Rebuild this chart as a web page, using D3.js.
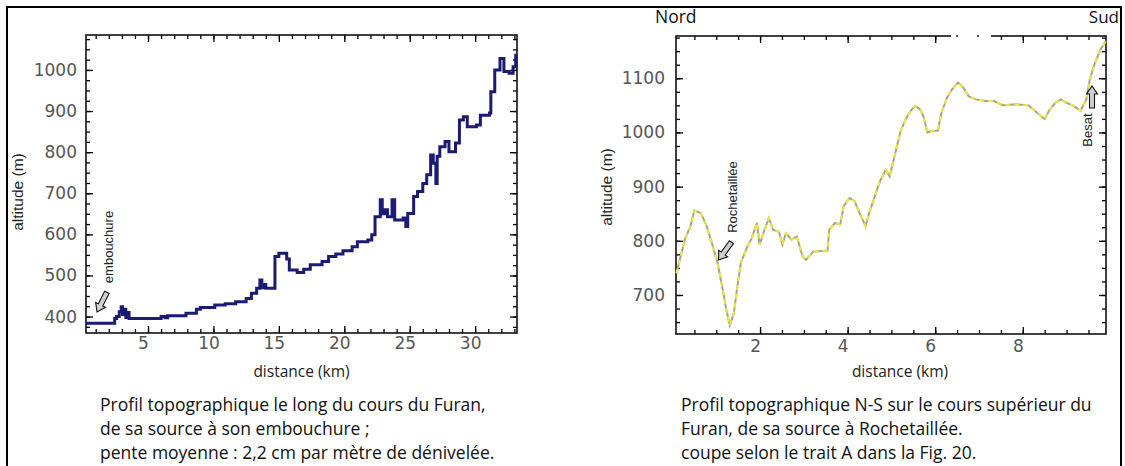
<!DOCTYPE html>
<html lang="fr">
<head>
<meta charset="utf-8">
<title>Profils topographiques du Furan</title>
<script src="https://d3js.org/d3.v7.min.js"></script>
<style>
  body { margin: 0; background: #fff; }
  svg { display: block; }
</style>
</head>
<body>
<script>
// profil le long du Furan (km, m)
var furanKm = [0.26, 2.3, 2.45, 2.6, 2.8, 2.95, 3.05, 3.15, 3.3, 3.45, 3.55, 5.9, 6.0, 6.3, 6.5, 7.9, 8.7, 9.0,
  10.1, 10.9, 11.7, 12.5, 12.9, 13.3, 13.55, 13.7, 13.85, 14.0, 14.7, 15.0, 15.6, 15.8, 16.4, 16.9, 17.4, 18.3,
  18.8, 19.35, 19.9, 20.6, 21.0, 21.8, 22.1, 22.35, 22.75, 22.9, 23.1, 23.3, 23.65, 23.85, 24.5, 24.7, 24.85,
  25.3, 25.6, 26.0, 26.3, 26.6, 26.8, 27.0, 27.1, 27.3, 27.7, 28.0, 28.5, 28.8, 29.1, 29.4, 30.1, 30.4, 31.1,
  31.2, 31.5, 31.9, 32.2, 32.6, 32.9, 33.1, 33.2];
var furanAlt = [384, 384, 395, 400, 412, 424, 405, 418, 398, 410, 395, 395, 400, 397, 402, 408, 418, 422,
  428, 431, 436, 444, 457, 469, 489, 470, 478, 469, 546, 554, 540, 513, 507, 515, 526, 534,
  546, 552, 560, 570, 582, 586, 599, 643, 684, 650, 660, 643, 684, 635, 640, 619, 651,
  692, 704, 724, 745, 793, 773, 724, 790, 813, 826, 801, 822, 878, 886, 862, 866, 890, 895,
  947, 1000, 1028, 996, 992, 1008, 1036, 1036];

// profil N-S (km, m)
var nsKm = [0.09, 0.28, 0.41, 0.5, 0.65, 0.78, 0.9, 1.03, 1.15, 1.23, 1.31, 1.4, 1.48, 1.56, 1.69, 1.81, 1.93,
  1.99, 2.1, 2.2, 2.3, 2.43, 2.51, 2.59, 2.72, 2.84, 2.97, 3.05, 3.21, 3.54, 3.58, 3.71, 3.83, 3.91, 4.04,
  4.16, 4.27, 4.41, 4.49, 4.62, 4.74, 4.87, 4.96, 5.07, 5.2, 5.32, 5.44, 5.54, 5.65, 5.73, 5.82, 5.94, 6.06,
  6.14, 6.27, 6.39, 6.52, 6.64, 6.76, 6.93, 7.14, 7.34, 7.55, 7.84, 8.13, 8.33, 8.5, 8.62, 8.75, 8.87, 8.99,
  9.16, 9.32, 9.45, 9.53, 9.65, 9.78, 9.9];
var nsAlt = [740, 802, 827, 856, 851, 827, 796, 759, 709, 672, 644, 666, 715, 759, 786, 805, 833,
  793, 820, 842, 820, 817, 793, 814, 802, 808, 771, 765, 780, 782, 820, 833, 830, 864, 879,
  873, 851, 827, 851, 882, 910, 931, 919, 956, 1000, 1024, 1040, 1049, 1043, 1030, 1000, 1003, 1003,
  1036, 1064, 1080, 1092, 1083, 1067, 1061, 1058, 1058, 1050, 1052, 1050, 1036, 1025, 1043, 1055, 1061, 1055,
  1049, 1040, 1061, 1098, 1129, 1154, 1169];

var leftXTicks = [5, 10, 15, 20, 25, 30];
var leftYTicks = [400, 500, 600, 700, 800, 900, 1000];
var rightXTicks = [2, 4, 6, 8];
var rightYTicks = [700, 800, 900, 1000, 1100];

var leftCaption = ["Profil topographique le long du cours du Furan,",
  "de sa source à son embouchure ;",
  "pente moyenne : 2,2 cm par mètre de dénivelée."];
var rightCaption = ["Profil topographique N-S sur le cours supérieur du",
  "Furan,  de sa source à Rochetaillée.",
  "coupe selon le trait A dans la Fig. 20."];

var W = 1125, H = 466;
var svg = d3.select('body').append('svg').attr('width', W).attr('height', H);

// cadre
svg.append('rect').attr('x', 7).attr('y', 7).attr('width', 1114).attr('height', 470)
  .style('fill', 'none').style('stroke', '#000').style('stroke-width', 2);

function panel(p) {
  var x = d3.scaleLinear().domain(p.xDom).range([p.left, p.right]);
  var y = d3.scaleLinear().domain(p.yDom).range([p.bottom, p.top]);
  var g = svg.append('g');

  function ax(gen, tx, ty, ticks, size, labels) {
    var a = gen.tickValues(ticks).tickSizeInner(-size).tickSizeOuter(0).tickPadding(p.pad);
    a.tickFormat(labels ? d3.format('d') : '');
    var s = g.append('g').attr('transform', 'translate(' + tx + ',' + ty + ')').call(a);
    s.select('.domain').remove();
    s.selectAll('line').style('stroke', '#000').style('stroke-width', 1.3);
    s.selectAll('text').style('font-family', '"DejaVu Sans", sans-serif').style('font-size', '17px').style('fill', '#555');
    return s;
  }
  // graduations intérieures sur les quatre côtés
  ax(d3.axisBottom(x), 0, p.bottom, p.xMinor, 4, false);
  ax(d3.axisTop(x), 0, p.top, p.xMinor, 4, false);
  ax(d3.axisLeft(y), p.left, 0, p.yMinor, 4, false);
  ax(d3.axisRight(y), p.right, 0, p.yMinor, 4, false);
  var bx = ax(d3.axisBottom(x), 0, p.bottom, p.xTicks, 7, true);
  bx.selectAll('text').attr('dx', -5).attr('dy', '0.55em');
  ax(d3.axisTop(x), 0, p.top, p.xTicks, 7, false);
  ax(d3.axisLeft(y), p.left, 0, p.yTicks, 7, true).selectAll('text').attr('dx', -2);
  ax(d3.axisRight(y), p.right, 0, p.yTicks, 7, false);

  g.append('rect').attr('x', p.left).attr('y', p.top)
    .attr('width', p.right - p.left).attr('height', p.bottom - p.top)
    .style('fill', 'none').style('stroke', '#111').style('stroke-width', 1.6);

  var pts = d3.zip(p.km, p.alt);
  var line = d3.line().x(function (d) { return x(d[0]); }).y(function (d) { return y(d[1]); }).curve(p.curve);
  p.styles.forEach(function (st) {
    g.append('path').datum(pts).attr('d', line)
      .style('fill', 'none').style('stroke', st.c).style('stroke-width', st.w)
      .style('stroke-dasharray', st.dash || null).style('stroke-linejoin', 'miter');
  });

  // titres des axes
  g.append('text').attr('x', (p.left + p.right) / 2 + p.xlabDx).attr('y', 377).attr('text-anchor', 'middle')
    .style('font-family', '"Open Sans", sans-serif').style('font-size', '15.5px').style('fill', '#222')
    .text('distance (km)');
  g.append('text').attr('transform', 'translate(' + p.ylabX + ',' + p.ylabY + ') rotate(-90)')
    .attr('text-anchor', 'middle')
    .style('font-family', '"Liberation Sans", sans-serif').style('font-size', '15.5px').style('fill', '#222')
    .text('altitude (m)');

  p.caption.forEach(function (t, i) {
    g.append('text').attr('x', p.capX).attr('y', 411 + i * 24)
      .style('font-family', '"Open Sans", sans-serif').style('font-size', '17.5px').style('fill', '#111')
      .text(t);
  });
  return {x: x, y: y};
}

function arrow(tx, ty, angle) {
  // flèche creuse, pointe en (tx,ty)
  var poly = [[0, 0], [-8, -5.5], [-8, -2.5], [-22, -2.5], [-22, 2.5], [-8, 2.5], [-8, 5.5]];
  svg.append('polygon').attr('points', poly.map(function (d) { return d.join(','); }).join(' '))
    .attr('transform', 'translate(' + tx + ',' + ty + ') rotate(' + angle + ')')
    .style('fill', '#cfcfcf').style('stroke', '#111').style('stroke-width', 1.1);
}

function vlabel(t, cx, cy, size) {
  svg.append('text').attr('transform', 'translate(' + cx + ',' + cy + ') rotate(-90)')
    .attr('text-anchor', 'middle').attr('dy', '0.35em')
    .style('font-family', '"Liberation Sans", sans-serif').style('font-size', size + 'px').style('fill', '#222')
    .text(t);
}

panel({
  left: 86, right: 517, top: 35, bottom: 333,
  xDom: [0.26, 33.2], yDom: [360, 1085],
  xTicks: leftXTicks, yTicks: leftYTicks,
  xMinor: d3.range(1, 34), yMinor: d3.range(375, 1085, 25),
  km: furanKm, alt: furanAlt, curve: d3.curveStepAfter,
  styles: [{c: '#1b1b72', w: 3}],
  pad: 7, xlabDx: 0, ylabX: 23, ylabY: 192,
  capX: 100, caption: leftCaption
});

panel({
  left: 676, right: 1106, top: 36, bottom: 334,
  xDom: [0.08, 9.9], yDom: [628, 1178],
  xTicks: rightXTicks, yTicks: rightYTicks,
  xMinor: d3.range(0.5, 10, 0.5), yMinor: d3.range(650, 1178, 25),
  km: nsKm, alt: nsAlt, curve: d3.curveLinear,
  styles: [{c: '#a3a392', w: 2}, {c: '#eee43c', w: 2, dash: '5,4'}],
  pad: 9, xlabDx: 9, ylabX: 612, ylabY: 187,
  capX: 681, caption: rightCaption
});

// coupure du trait supérieur
svg.append('rect').attr('x', 951).attr('y', 32).attr('width', 40).attr('height', 8).style('fill', '#fff');
[957, 978].forEach(function (d) {
  svg.append('rect').attr('x', d - 1).attr('y', 35).attr('width', 2).attr('height', 2).style('fill', '#555');
});

// annotations
vlabel('embouchure', 108, 247, 13);
arrow(97, 312, 116.6);
vlabel('Rochetaillée', 732, 197, 13);
arrow(718.5, 260, 126);
vlabel('Besat', 1087, 130, 13);
arrow(1092, 86, -90);

svg.append('text').attr('x', 655).attr('y', 23)
  .style('font-family', '"Open Sans", sans-serif').style('font-size', '17.5px').style('fill', '#111').text('Nord');
svg.append('text').attr('x', 1119).attr('y', 23).attr('text-anchor', 'end')
  .style('font-family', '"Open Sans", sans-serif').style('font-size', '17px').style('fill', '#111').text('Sud');
</script>
</body>
</html>
